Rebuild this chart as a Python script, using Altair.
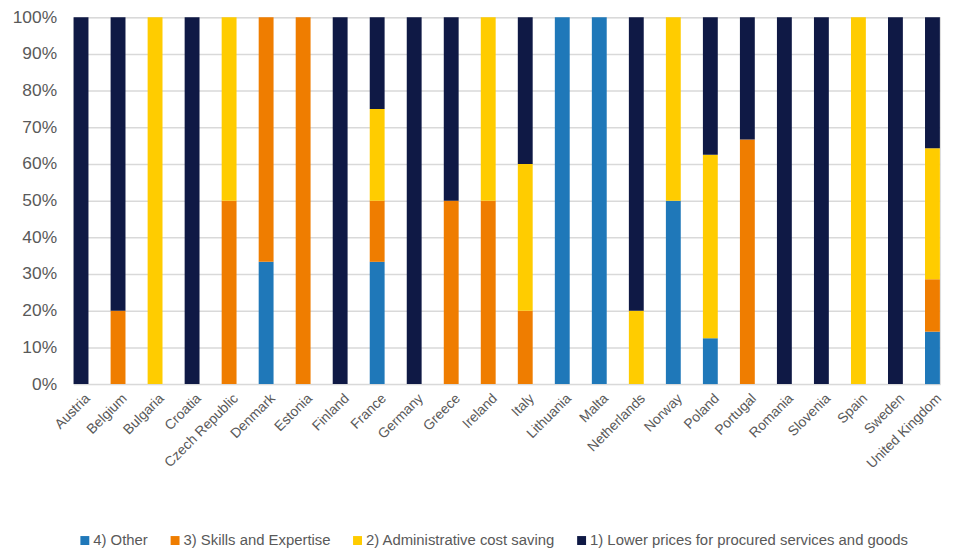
import altair as alt
import pandas as pd

countries = ["Austria", "Belgium", "Bulgaria", "Croatia", "Czech Republic", "Denmark",
             "Estonia", "Finland", "France", "Germany", "Greece", "Ireland", "Italy",
             "Lithuania", "Malta", "Netherlands", "Norway", "Poland", "Portugal",
             "Romania", "Slovenia", "Spain", "Sweden", "United Kingdom"]

series = ["4) Other", "3) Skills and Expertise", "2) Administrative cost saving",
          "1) Lower prices for procured services and goods"]

other =  [0, 0, 0, 0, 0, 33.33, 0, 0, 33.33, 0, 0, 0, 0, 100, 100, 0, 50, 12.5, 0, 0, 0, 0, 0, 14.29]
skills = [0, 20, 0, 0, 50, 66.67, 100, 0, 16.67, 0, 50, 50, 20, 0, 0, 0, 0, 0, 66.67, 0, 0, 0, 0, 14.29]
admin =  [0, 0, 100, 0, 50, 0, 0, 0, 25, 0, 0, 50, 40, 0, 0, 20, 50, 50, 0, 0, 0, 100, 0, 35.71]
lower =  [100, 80, 0, 100, 0, 0, 0, 100, 25, 100, 50, 0, 40, 0, 0, 80, 0, 37.5, 33.33, 100, 100, 0, 100, 35.71]

colors = ["#1F78B9", "#EF7D00", "#FFCC00", "#0F1945"]

rows = []
for i, c in enumerate(countries):
    for k, (s, vals) in enumerate(zip(series, [other, skills, admin, lower])):
        rows.append({"country": c, "series": s, "value": vals[i], "ord": k})
df = pd.DataFrame(rows)

FONT = "Liberation Sans"
GREY = "#595959"

chart = alt.Chart(df).mark_bar(size=15).encode(
    x=alt.X("country:N", sort=countries, title=None,
            scale=alt.Scale(paddingInner=0.59, paddingOuter=0.0),
            axis=alt.Axis(labelAngle=-45, labelAlign="right", labelBaseline="top",
                          labelPadding=7, labelOffset=2, ticks=False, domain=False, grid=False,
                          labelFont=FONT, labelFontSize=14, labelColor=GREY)),
    y=alt.Y("value:Q", stack="zero", title=None,
            scale=alt.Scale(domain=[0, 100], nice=False),
            axis=alt.Axis(values=list(range(0, 101, 10)), labelExpr="datum.value + '%'",
                          ticks=False, domain=False, labelPadding=17,
                          labelFont=FONT, labelFontSize=17.5, labelColor=GREY,
                          gridColor="#D9D9D9", gridWidth=1.5)),
    color=alt.Color("series:N", sort=series,
                    scale=alt.Scale(domain=series, range=colors),
                    legend=alt.Legend(title=None, orient="none", direction="horizontal",
                                      legendX=4, legendY=520, symbolType="square",
                                      symbolSize=81, symbolStrokeWidth=0,
                                      labelFont=FONT, labelFontSize=15, labelColor=GREY,
                                      labelLimit=0, labelOffset=1, columnPadding=19)),
    order=alt.Order("ord:Q", sort="ascending"),
).properties(
    width=874, height=370,
    autosize=alt.AutoSizeParams(type="none"),
    padding={"left": 66, "top": 7, "right": 5, "bottom": 164},
).configure_view(stroke=None).configure(background="white")

chart.save("out.html", embed_options={"renderer": "svg", "actions": False})
